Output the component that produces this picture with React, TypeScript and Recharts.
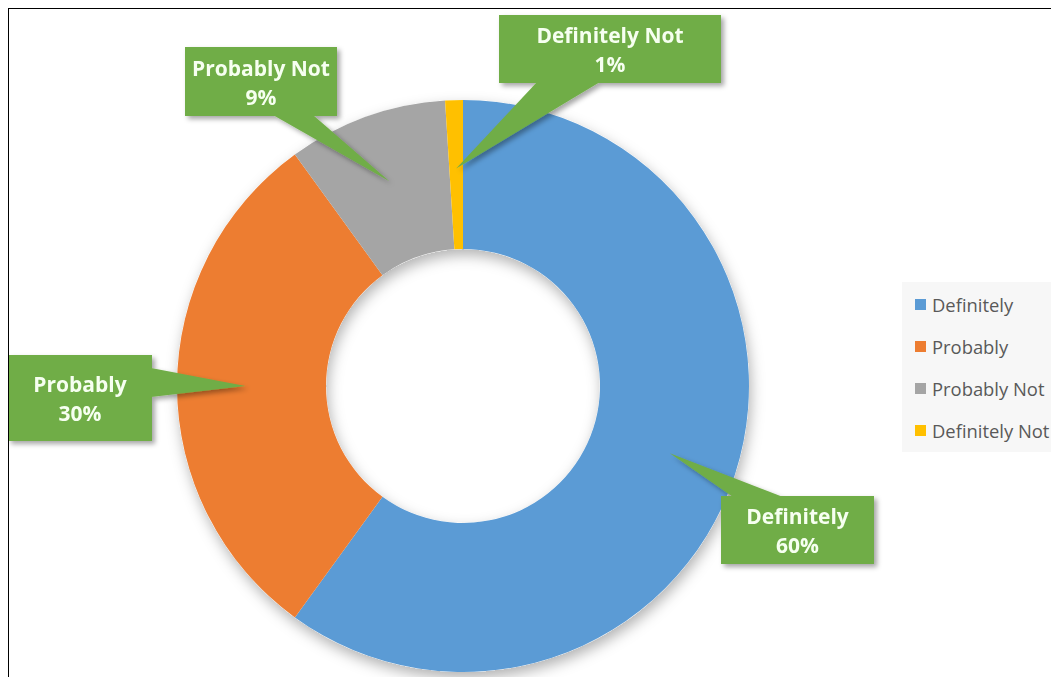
import { PieChart, Pie, Cell, Legend } from 'recharts'

const categories = ['Definitely', 'Probably', 'Probably Not', 'Definitely Not']
const shares = [60, 30, 9, 1]
const colors = ['#5B9BD5', '#ED7D31', '#A5A5A5', '#FFC000']

const data = categories.map((name, i) => ({ name, value: shares[i] }))

// callout boxes: box rect, which side the pointer leaves from, and where along it
const callouts = [
  { x: 713, y: 488, w: 153, h: 68, side: 'top', b0: 725, b1: 775 },
  { x: 0, y: 347, w: 144, h: 86, side: 'right', b0: 360, b1: 389 },
  { x: 177, y: 39, w: 152, h: 69, side: 'bottom', b0: 265, b1: 305 },
  { x: 491, y: 7, w: 222, h: 68, side: 'bottom', b0: 529, b1: 592 },
]

const RAD = Math.PI / 180
const FONT = '"Open Sans", "Noto Sans", sans-serif'

function Callout(props: any) {
  const { cx, cy, midAngle, innerRadius, outerRadius, index, name, value } = props
  const box = callouts[index]
  const r = (innerRadius + outerRadius) / 2 + 6
  const a = -midAngle * RAD
  const tx = cx + r * Math.cos(a)
  const ty = cy + r * Math.sin(a)

  let p0: number[], p1: number[]
  if (box.side === 'top') {
    p0 = [box.b0, box.y + 1]
    p1 = [box.b1, box.y + 1]
  } else if (box.side === 'bottom') {
    p0 = [box.b0, box.y + box.h - 1]
    p1 = [box.b1, box.y + box.h - 1]
  } else {
    p0 = [box.x + box.w - 1, box.b0]
    p1 = [box.x + box.w - 1, box.b1]
  }
  const mid = box.y + box.h / 2
  const centerX = box.x + box.w / 2

  return (
    <g filter="url(#calloutShadow)">
      <polygon points={`${p0[0]},${p0[1]} ${p1[0]},${p1[1]} ${tx},${ty}`} fill="#70AD47" />
      <rect x={box.x} y={box.y} width={box.w} height={box.h} fill="#70AD47" />
      <text
        x={centerX}
        y={mid - 14}
        textAnchor="middle"
        dominantBaseline="central"
        fill="#F6FFF0"
        fontFamily={FONT}
        fontWeight={700}
        fontSize={21}
      >
        {name}
      </text>
      <text
        x={centerX}
        y={mid + 15}
        textAnchor="middle"
        dominantBaseline="central"
        fill="#F6FFF0"
        fontFamily={FONT}
        fontWeight={700}
        fontSize={21}
      >
        {value}%
      </text>
    </g>
  )
}

function LegendBox() {
  return (
    <div style={{ background: '#F7F7F7', width: 157, height: 170, position: 'relative' }}>
      {categories.map((name, i) => (
        <div
          key={name}
          style={{
            position: 'absolute',
            left: 13,
            top: 22 + i * 42 - 13,
            height: 26,
            display: 'flex',
            alignItems: 'center',
            whiteSpace: 'nowrap',
          }}
        >
          <span style={{ width: 11, height: 11, background: colors[i], display: 'inline-block', marginRight: 6 }} />
          <span style={{ fontFamily: FONT, fontSize: 18.4, color: '#595959' }}>{name}</span>
        </div>
      ))}
    </div>
  )
}

export default function App() {
  return (
    <div style={{ position: 'relative', width: 1051, height: 669, background: '#fff', overflow: 'hidden' }}>
      <PieChart width={1051} height={669} margin={{ top: 0, right: 0, bottom: 0, left: 0 }}>
        <defs>
          <filter id="ringShadow" x="-20%" y="-20%" width="140%" height="140%">
            <feDropShadow dx="2" dy="6" stdDeviation="7" floodColor="#000" floodOpacity="0.3" />
          </filter>
          <filter id="calloutShadow" x="-20%" y="-20%" width="140%" height="140%">
            <feDropShadow dx="3" dy="3" stdDeviation="2.5" floodColor="#000" floodOpacity="0.35" />
          </filter>
        </defs>
        <Pie
          data={[{ name: 'ring', value: 1 }]}
          dataKey="value"
          cx={455}
          cy={378}
          innerRadius={137}
          outerRadius={286}
          startAngle={90}
          endAngle={-270}
          stroke="none"
          isAnimationActive={false}
          legendType="none"
        >
          <Cell fill="#fff" filter="url(#ringShadow)" />
        </Pie>
        <Pie
          data={data}
          dataKey="value"
          nameKey="name"
          cx={455}
          cy={378}
          innerRadius={137}
          outerRadius={286}
          startAngle={90}
          endAngle={-270}
          stroke="none"
          label={Callout}
          labelLine={false}
          isAnimationActive={false}
        >
          {data.map((d, i) => (
            <Cell key={d.name} fill={colors[i]} />
          ))}
        </Pie>
        <Legend
          content={() => <LegendBox />}
          wrapperStyle={{ position: 'absolute', left: 894, top: 274, width: 157, height: 170 }}
        />
      </PieChart>
      <div
        style={{
          position: 'absolute',
          left: -1,
          top: -1,
          right: 0,
          bottom: 0,
          borderTop: '2px solid #000',
          borderLeft: '2px solid #000',
          pointerEvents: 'none',
        }}
      />
    </div>
  )
}
